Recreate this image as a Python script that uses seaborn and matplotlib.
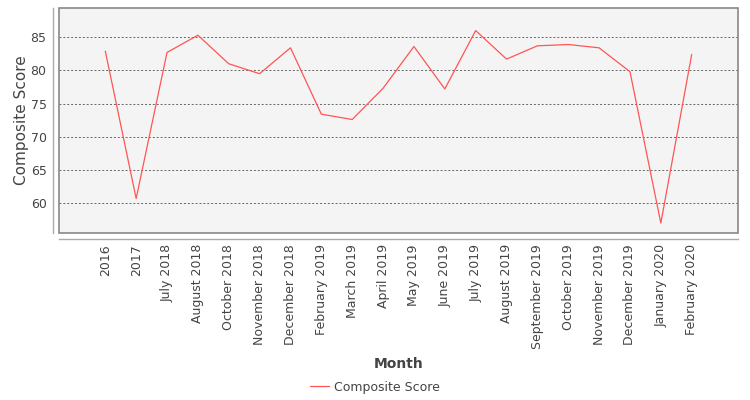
import matplotlib
matplotlib.use('Agg')
import matplotlib.pyplot as plt
from matplotlib.patches import Rectangle
from matplotlib.lines import Line2D
import pandas as pd
import seaborn as sns

# DATA
months = ['2016', '2017', 'July 2018', 'August 2018', 'October 2018',
          'November 2018', 'December 2018', 'February 2019', 'March 2019',
          'April 2019', 'May 2019', 'June 2019', 'July 2019', 'August 2019',
          'September 2019', 'October 2019', 'November 2019', 'December 2019',
          'January 2020', 'February 2020']
scores = [82.9, 60.7, 82.7, 85.3, 81.0, 79.5, 83.4, 73.4, 72.6, 77.3,
          83.6, 77.2, 86.0, 81.7, 83.7, 83.9, 83.4, 79.8, 57.0, 82.4]
y_ticks = [60, 65, 70, 75, 80, 85]

df = pd.DataFrame({'Month': months, 'Composite Score': scores})

sns.set_style('white')
plt.rcParams['font.family'] = ['DejaVu Sans']
text_col = '#444444'
axis_col = '#aaaaaa'
line_col = '#ff5555'

fig = plt.figure(figsize=(7.5, 4), dpi=100)
ax = fig.add_axes([59 / 750, 1 - 233 / 400, 679 / 750, 225 / 400])
ax.set_facecolor('#f4f4f4')

sns.lineplot(data=df, x='Month', y='Composite Score', sort=False,
             color=line_col, linewidth=0.9, ax=ax)

ax.set_xlim(-1.5, len(months) + 0.5)
ax.set_ylim(55.5, 89.4)
ax.set_yticks(y_ticks)
ax.set_xticks(range(len(months)))
ax.set_xticklabels(months)

# DASHED HORIZONTAL GRID
for yv in y_ticks:
    ax.axhline(yv, color='#666666', linewidth=0.7, linestyle=(0, (2, 2)),
               zorder=0.5)

# PLOT BOX
ax.add_patch(Rectangle((0, 0), 1, 1, transform=ax.transAxes, fill=False,
                       edgecolor='#888888', linewidth=1.2, clip_on=False,
                       zorder=5))

# OFFSET AXIS LINES (JFREECHART STYLE)
for side in ['top', 'right']:
    ax.spines[side].set_visible(False)
for side in ['left', 'bottom']:
    ax.spines[side].set_position(('outward', 4))
    ax.spines[side].set_color(axis_col)
    ax.spines[side].set_linewidth(1)

ax.tick_params(axis='both', colors=axis_col, labelcolor=text_col,
               labelsize=9, length=3, width=1, pad=2)
ax.tick_params(axis='x', labelrotation=90, pad=1)

ax.set_ylabel('Composite Score', fontsize=11, color=text_col)
ax.yaxis.set_label_coords(-0.044, 0.5)
ax.set_xlabel('Month', fontsize=10, fontweight='bold', color=text_col)
ax.xaxis.set_label_coords(0.5, -0.553)

# LEGEND BELOW
handle = Line2D([], [], color=line_col, linewidth=0.9)
fig.legend([handle], ['Composite Score'], loc='center',
           bbox_to_anchor=(0.5, 1 - 387 / 400), frameon=False,
           fontsize=9, labelcolor=text_col, handlelength=1.5,
           handletextpad=0.4)

fig.savefig('out.png', dpi=100)
